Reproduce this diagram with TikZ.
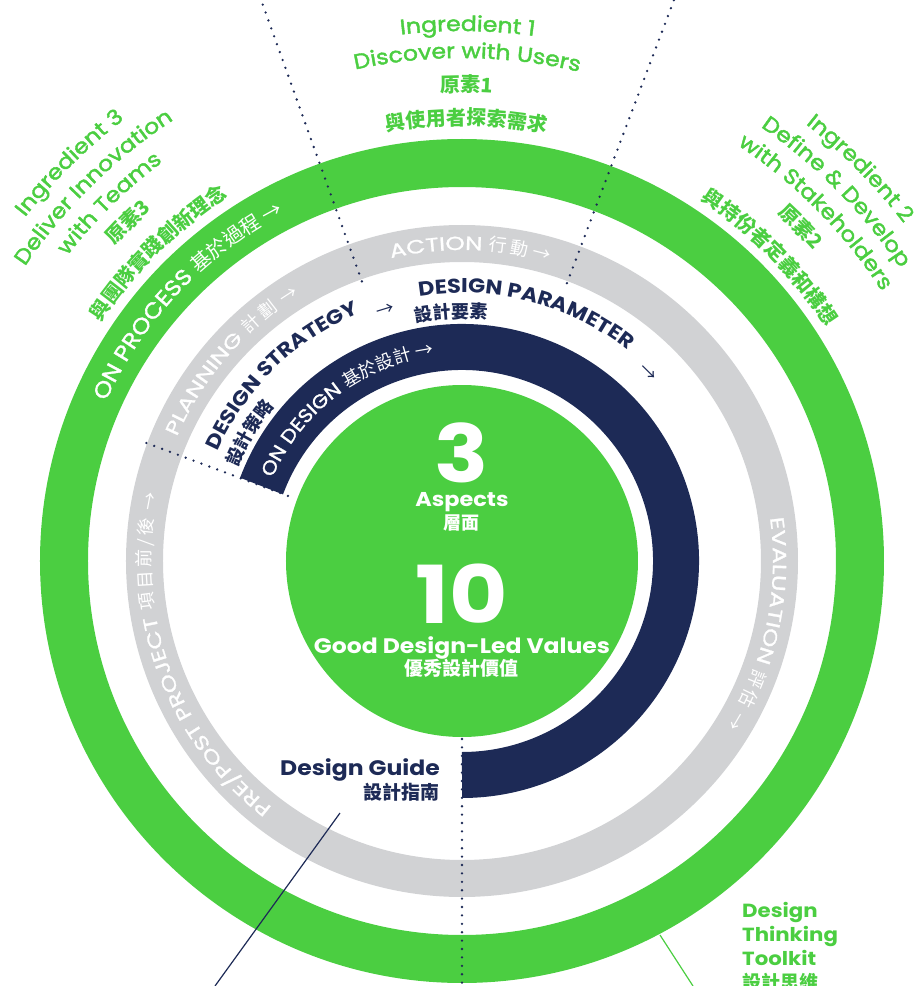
\documentclass[tikz,border=0pt]{standalone}
\usepackage{fontspec}
\usetikzlibrary{decorations.text}

\newfontfamily\enfont{Poppins}[FakeStretch=1.12]
\newfontfamily\enmed{Poppins}[FakeStretch=1.12, FakeBold=2]
\newfontfamily\enproc{Poppins}[FakeStretch=1.12, FakeBold=1.5]
\newfontfamily\enring{Poppins}[FakeStretch=1.3, FakeBold=1.2]
\newfontfamily\zhfont{Noto Sans CJK TC}

\definecolor{dtgreen}{HTML}{4BCE41}
\definecolor{dtnavy}{HTML}{1D2A56}
\definecolor{dtgray}{HTML}{D1D2D4}

\newcommand\procen{\enproc\fontsize{22}{22}\selectfont}
\newcommand\proczh{\zhfont\fontsize{20}{20}\selectfont}
\newcommand\ringen{\enring\fontsize{19}{19}\selectfont}
\newcommand\navyen{\enproc\fontsize{19}{19}\selectfont}
\newcommand\ringzh{\zhfont\fontsize{18}{18}\selectfont}
\newcommand\layeren{\enfont\bfseries\fontsize{20}{20}\selectfont}
\newcommand\layerzh{\zhfont\bfseries\fontsize{18}{18}\selectfont}
\newcommand\ingen{\enmed\fontsize{21}{21}\selectfont}
\newcommand\ingzh{\zhfont\bfseries\fontsize{20}{20}\selectfont}
\newcommand\cjkgap{\kern3pt}

\begin{document}
\begin{tikzpicture}[x=1pt,y=1pt,
		whitetext/.style={decorate,decoration={text along path,text align=center,text color=white}},
		navytext/.style={decorate,decoration={text along path,text align=center,text color=dtnavy}},
		greentext/.style={decorate,decoration={text along path,text align=center,text color=dtgreen}},
		divider/.style={dtnavy,line width=2.6pt,line cap=round,dash pattern=on 0pt off 8.4pt},
		pointer/.style={line width=1.2pt}]
	\useasboundingbox (-462,-425) rectangle (458,561);

	% rings
	\draw[dtgreen,line width=48pt] (0,0) circle[radius=398pt];
	\draw[dtgray,line width=37pt] (0,0) circle[radius=317.5pt];
	\draw[dtnavy,line width=46pt] (159.5:214pt) arc[start angle=159.5,end angle=-90,radius=214pt];
	\fill[dtgreen] (0,0) circle[radius=176pt];

	% dividers
	\draw[divider] (109.7:297pt) -- (109.7:600pt);
	\draw[divider] (69.3:297pt) -- (69.3:600pt);
	\draw[divider] (159.5:337pt) -- (159.5:180pt);
	\draw[divider] (0,-178) -- (0,-425);

	% ring labels
	\path[whitetext,decoration={text={|\procen|ON PROCESS |\proczh|基於過程 →}}]
		(186.5:390pt) arc[start angle=186.5,end angle=86.5,radius=390pt];
	\path[whitetext,decoration={text={|\ringen|PLANNING |\ringzh|計{\cjkgap}劃 {\cjkgap}→}}]
		(199:311pt) arc[start angle=199,end angle=79,radius=311pt];
	\path[whitetext,decoration={text={|\ringen|ACTION |\ringzh|行{\cjkgap}動 →}}]
		(148.5:311pt) arc[start angle=148.5,end angle=28.5,radius=311pt];
	\path[whitetext,decoration={text={|\ringen|EVALUATION |\ringzh|評{\cjkgap}估 {\cjkgap}→}}]
		(48:311pt) arc[start angle=48,end angle=-72,radius=311pt];
	\path[whitetext,decoration={text={|\ringen|PRE/POST PROJECT |\ringzh|項{\cjkgap}目{\cjkgap}前{\cjkgap}/{\cjkgap}後 {\cjkgap}→}}]
		(270:311pt) arc[start angle=270,end angle=130,radius=311pt];
	\path[whitetext,decoration={text={|\navyen|ON DESIGN |\ringzh|基於設計 →}}]
		(197:207pt) arc[start angle=197,end angle=57,radius=207pt];

	% design layers
	\path[navytext,decoration={text={|\layeren|DESIGN STRATEGY}}]
		(194.2:268pt) arc[start angle=194.2,end angle=74.2,radius=268pt];
	\path[navytext,decoration={text={|\layerzh|設計策略}}]
		(189:243pt) arc[start angle=189,end angle=109,radius=243pt];
	\path[navytext,decoration={text={|\layeren|DESIGN PARAMETER}}]
		(135.5:268pt) arc[start angle=135.5,end angle=15.5,radius=268pt];
	\path[navytext,decoration={text={|\layerzh|設計要素}}]
		(122.5:243pt) arc[start angle=122.5,end angle=62.5,radius=243pt];
	\node[text=dtnavy,font=\zhfont\fontsize{18}{18}\selectfont,rotate=17] (arrowa) at (107:262pt) {→};
	\node[text=dtnavy,font=\zhfont\fontsize{18}{18}\selectfont,rotate=-44.7] (arrowb) at (45.3:264pt) {→};

	% ingredient 1
	\path[greentext,decoration={text={|\ingen|Ingredient 1}}]
		(129.4:530pt) arc[start angle=129.4,end angle=49.4,radius=530pt];
	\path[greentext,decoration={text={|\ingen|Discover with Users}}]
		(129.4:503pt) arc[start angle=129.4,end angle=49.4,radius=503pt];
	\path[greentext,decoration={text={|\ingzh|原素1}}]
		(129.4:469pt) arc[start angle=129.4,end angle=49.4,radius=469pt];
	\path[greentext,decoration={text={|\ingzh|與使用者探索需求}}]
		(129.4:436pt) arc[start angle=129.4,end angle=49.4,radius=436pt];

	% ingredient 2
	\path[greentext,decoration={text={|\ingen|Ingredient 2}}]
		(84.6:556pt) arc[start angle=84.6,end angle=4.6,radius=556pt];
	\path[greentext,decoration={text={|\ingen|Define {\&} Develop}}]
		(84.6:527pt) arc[start angle=84.6,end angle=4.6,radius=527pt];
	\path[greentext,decoration={text={|\ingen|with Stakeholders}}]
		(84.6:499pt) arc[start angle=84.6,end angle=4.6,radius=499pt];
	\path[greentext,decoration={text={|\ingzh|原素2}}]
		(84.6:469pt) arc[start angle=84.6,end angle=4.6,radius=469pt];
	\path[greentext,decoration={text={|\ingzh|與持份者定義和構想}}]
		(84.6:433pt) arc[start angle=84.6,end angle=4.6,radius=433pt];

	% ingredient 3
	\path[greentext,decoration={text={|\ingen|Ingredient 3}}]
		(174.6:556pt) arc[start angle=174.6,end angle=94.6,radius=556pt];
	\path[greentext,decoration={text={|\ingen|Deliver Innovation}}]
		(174.6:527pt) arc[start angle=174.6,end angle=94.6,radius=527pt];
	\path[greentext,decoration={text={|\ingen|with Teams}}]
		(174.6:499pt) arc[start angle=174.6,end angle=94.6,radius=499pt];
	\path[greentext,decoration={text={|\ingzh|原素3}}]
		(174.6:469pt) arc[start angle=174.6,end angle=94.6,radius=469pt];
	\path[greentext,decoration={text={|\ingzh|與團隊實踐創新理念}}]
		(174.6:433pt) arc[start angle=174.6,end angle=94.6,radius=433pt];

	% centre
	\node[anchor=base,text=white,inner sep=0pt,font=\enfont\bfseries\fontsize{80}{80}\selectfont] (three) at (0,79) {3};
	\node[anchor=base,text=white,inner sep=0pt,font=\enfont\bfseries\fontsize{20}{20}\selectfont] (aspects) at (0,55) {Aspects};
	\node[anchor=base,text=white,inner sep=0pt,font=\zhfont\bfseries\fontsize{18}{18}\selectfont] (aspectszh) at (0,32) {層面};
	\node[anchor=base,text=white,inner sep=0pt,font=\enfont\bfseries\fontsize{80}{80}\selectfont] (ten) at (0,-62) {10};
	\node[anchor=base,text=white,inner sep=0pt,font=\enfont\bfseries\fontsize{21}{21}\selectfont] (values) at (0,-92) {Good Design-Led Values};
	\node[anchor=base,text=white,inner sep=0pt,font=\zhfont\bfseries\fontsize{19}{19}\selectfont] (valueszh) at (0,-114) {優秀設計價值};

	% guide and toolkit
	\node[anchor=north east,align=right,inner sep=0pt,text=dtnavy,font=\enfont\bfseries\fontsize{21}{24}\selectfont] (guide) at (-22,-197)
		{Design Guide\\{\zhfont\fontsize{19}{24}\selectfont 設計指南}};
	\node[anchor=north west,align=left,inner sep=0pt,text=dtgreen,font=\enfont\bfseries\fontsize{19}{24}\selectfont] (toolkit) at (280,-341)
		{Design\\Thinking\\Toolkit\\{\zhfont\fontsize{19}{24}\selectfont 設計思維}};

	\coordinate (guidetip) at (-122,-252);
	\coordinate (guideend) at (-247,-425);
	\draw[dtnavy,pointer] (guidetip) -- (guideend);
	\coordinate (kittip) at (198,-374);
	\coordinate (kitend) at (231,-425);
	\draw[dtgreen,pointer] (kittip) -- (kitend);
\end{tikzpicture}
\end{document}
